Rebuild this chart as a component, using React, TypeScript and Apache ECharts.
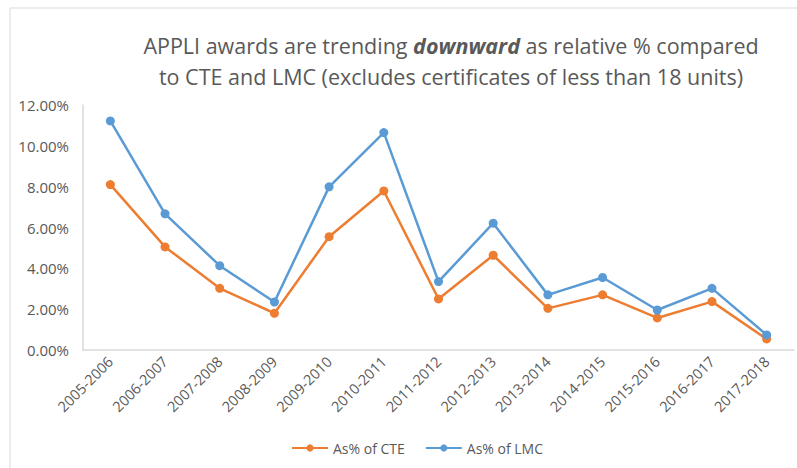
import React, { useEffect, useRef } from "react";
import * as echarts from "echarts";

const categories = [
  "2005-2006", "2006-2007", "2007-2008", "2008-2009", "2009-2010", "2010-2011", "2011-2012",
  "2012-2013", "2013-2014", "2014-2015", "2015-2016", "2016-2017", "2017-2018",
];
const cteValues = [8.1, 5.05, 3.02, 1.8, 5.55, 7.79, 2.5, 4.64, 2.04, 2.7, 1.57, 2.37, 0.54];
const lmcValues = [11.22, 6.67, 4.13, 2.35, 7.99, 10.65, 3.35, 6.21, 2.7, 3.55, 1.96, 3.02, 0.74];
const yTicks = [0, 2, 4, 6, 8, 10, 12];

const FONT = "'Open Sans', sans-serif";

export default function App() {
  const ref = useRef<HTMLDivElement>(null);
  useEffect(() => {
    if (!ref.current) return;
    const chart = echarts.init(ref.current, undefined, { renderer: "svg" });
    chart.setOption({
      animation: false,
      textStyle: { fontFamily: FONT },
      graphic: [
        {
          type: "rect",
          shape: { x: 10, y: 8, width: 800, height: 480 },
          style: { fill: "none", stroke: "#d9d9d9", lineWidth: 1 },
          silent: true,
        },
        {
          type: "text",
          x: 451,
          y: 30,
          style: {
            text: "{a|APPLI awards are trending }{b|downward}{a| as relative % compared}\n{a|to CTE and LMC (excludes certificates of less than 18 units)}",
            align: "center",
            verticalAlign: "top",
            rich: {
              a: { fontFamily: FONT, fontSize: 21.5, fill: "#595959", lineHeight: 31 },
              b: { fontFamily: FONT, fontSize: 21.5, fill: "#595959", fontWeight: "bold", fontStyle: "italic", lineHeight: 31 },
            },
          },
        },
      ],
      grid: { left: 83, right: 3, top: 105, bottom: 118 },
      legend: {
        bottom: 8,
        left: 286,
        itemWidth: 36,
        itemHeight: 9,
        itemGap: 20,
        textStyle: { fontFamily: FONT, fontSize: 14, color: "#595959" },
        data: ["As% of CTE", "As% of LMC"],
      },
      xAxis: {
        type: "category",
        data: categories,
        boundaryGap: true,
        axisLine: { lineStyle: { color: "#d9d9d9", width: 1.5 } },
        axisTick: { show: false },
        axisLabel: { rotate: 45, color: "#595959", fontSize: 14.5, fontFamily: FONT, margin: 9 },
      },
      yAxis: {
        type: "value",
        min: yTicks[0],
        max: yTicks[yTicks.length - 1],
        interval: 2,
        axisLine: { show: true, lineStyle: { color: "#d9d9d9", width: 1.5 } },
        axisTick: { show: false },
        splitLine: { show: false },
        axisLabel: {
          color: "#595959",
          fontSize: 15,
          fontFamily: FONT,
          margin: 14,
          formatter: (v: number) => v.toFixed(2) + "%",
        },
      },
      series: [
        {
          name: "As% of CTE",
          type: "line",
          data: cteValues,
          color: "#ED7D31",
          symbol: "circle",
          symbolSize: 9,
          lineStyle: { width: 2.5 },
        },
        {
          name: "As% of LMC",
          type: "line",
          data: lmcValues,
          color: "#5B9BD5",
          symbol: "circle",
          symbolSize: 9,
          lineStyle: { width: 2.5 },
        },
      ],
    });
    return () => chart.dispose();
  }, []);
  return <div ref={ref} style={{ width: 797, height: 468, position: "absolute", left: 0, top: 0 }} />;
}
